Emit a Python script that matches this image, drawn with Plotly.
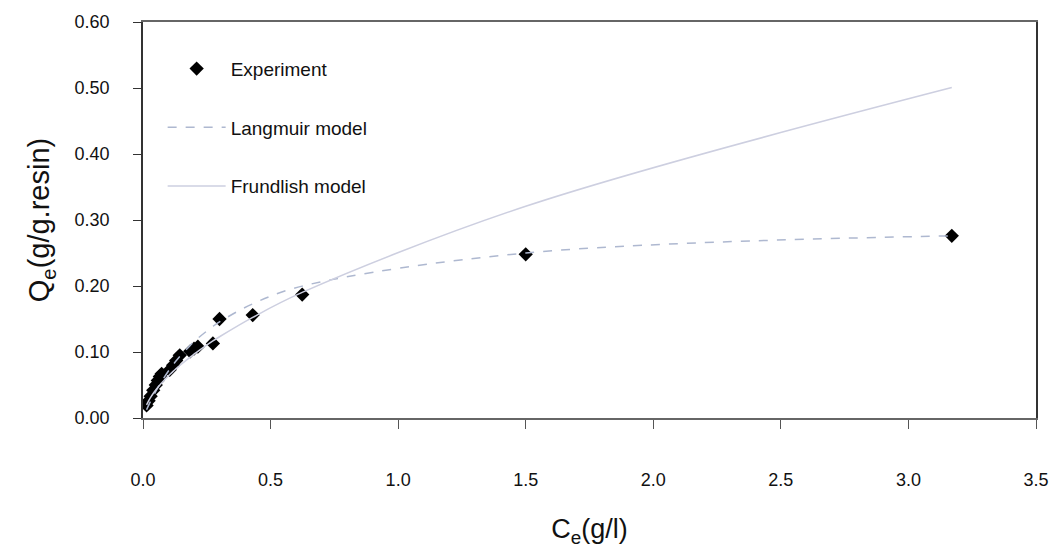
import plotly.graph_objects as go

# Equilibrium concentration Ce (g/l) and measured uptake Qe (g/g resin)
ce = [0.014, 0.022, 0.030, 0.040, 0.050, 0.058, 0.066, 0.073, 0.105, 0.118, 0.130,
      0.144, 0.185, 0.200, 0.215, 0.274, 0.300, 0.430, 0.624, 1.50, 3.17]
qe_exp = [0.019, 0.026, 0.033, 0.042, 0.050, 0.057, 0.063, 0.067, 0.073, 0.080, 0.087,
          0.095, 0.101, 0.105, 0.108, 0.113, 0.150, 0.156, 0.187, 0.248, 0.276]

# Fitted isotherm values at the same concentrations
qe_langmuir = [0.0125, 0.0192, 0.0256, 0.0332, 0.0404, 0.0459, 0.0512, 0.0556, 0.0741, 0.0808, 0.0867,
               0.0931, 0.110, 0.1156, 0.1208, 0.1388, 0.1457, 0.173, 0.1998, 0.250, 0.276]
qe_freundlich = [0.0199, 0.0260, 0.0313, 0.0371, 0.0424, 0.0463, 0.0500, 0.0531, 0.0659, 0.0707, 0.0748,
                 0.0795, 0.0923, 0.0967, 0.1010, 0.1167, 0.1231, 0.1525, 0.1903, 0.3208, 0.5006]

x_ticks = [0.0, 0.5, 1.0, 1.5, 2.0, 2.5, 3.0, 3.5]
y_ticks = [0.0, 0.1, 0.2, 0.3, 0.4, 0.5, 0.6]

FONT = "Liberation Sans, Arial, sans-serif"

fig = go.Figure()
fig.add_trace(go.Scatter(
    x=ce, y=qe_exp, mode="markers", name="Experiment", legendgroup="a",
    marker=dict(symbol="diamond", size=11, color="black"),
))
fig.add_trace(go.Scatter(
    x=ce, y=qe_langmuir, mode="lines", name="Langmuir model", legendgroup="b",
    line=dict(color="#aeb8d0", width=1.5, dash="dash", shape="spline"),
))
fig.add_trace(go.Scatter(
    x=ce, y=qe_freundlich, mode="lines", name="Frundlish model", legendgroup="c",
    line=dict(color="#cdcfe0", width=1.5, shape="spline"),
))

fig.update_layout(
    width=1061, height=559,
    margin=dict(l=143, r=21, t=18, b=141),
    paper_bgcolor="white", plot_bgcolor="white",
    font=dict(family=FONT, size=18, color="#111"),
    showlegend=True,
    legend=dict(
        x=0.022, y=0.93, xanchor="left", yanchor="top",
        bgcolor="rgba(0,0,0,0)", font=dict(size=19),
        itemwidth=58, tracegroupgap=31,
    ),
    xaxis=dict(
        range=[0, 3.5], tickvals=x_ticks, tickformat=".1f",
        ticks="outside", ticklen=9, tickcolor="#555",
        showline=True, linecolor="#666", linewidth=1.5, mirror=True,
        showgrid=False, zeroline=False, ticklabelstandoff=36,
        title=dict(text="C<sub>e</sub>(g/l)", font=dict(size=27), standoff=30),
    ),
    yaxis=dict(
        range=[0, 0.6], tickvals=y_ticks, tickformat=".2f",
        ticks="outside", ticklen=8, tickcolor="#333",
        showline=True, linecolor="#333", linewidth=1.5, mirror=True,
        showgrid=False, zeroline=False, ticklabelstandoff=20,
        title=dict(text="Q<sub>e</sub>(g/g.resin)", font=dict(size=29), standoff=16),
    ),
)

fig.write_html("out.html")
